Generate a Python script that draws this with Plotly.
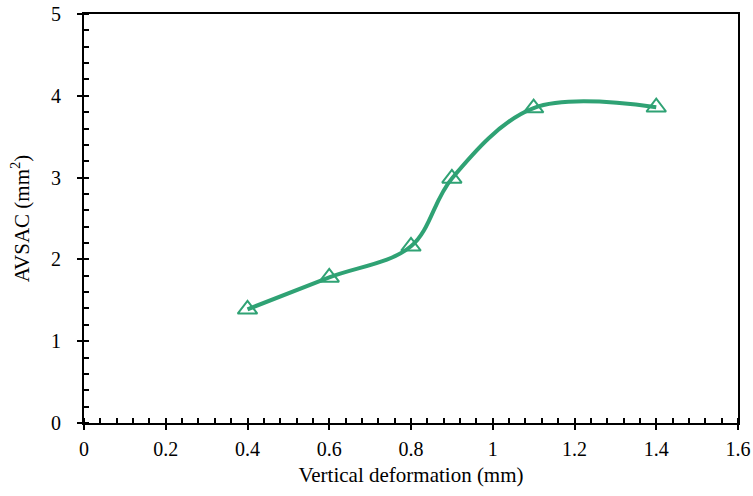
import plotly.graph_objects as go

x_vals = [0.4, 0.6, 0.8, 0.9, 1.1, 1.4]
y_vals = [1.39, 1.78, 2.16, 2.99, 3.85, 3.86]
x_title = "Vertical deformation (mm)"
y_title = "AVSAC (mm<sup>2</sup>)"

color = "#2FA274"
font_family = "Times New Roman, Liberation Serif, serif"

fig = go.Figure()
fig.add_trace(go.Scatter(
    x=x_vals, y=y_vals, mode="lines+markers",
    line=dict(color=color, width=4, shape="spline", smoothing=1.0),
    marker=dict(symbol="triangle-up-open", size=17, color=color, line=dict(width=2, color=color)),
    showlegend=False,
))

axis_common = dict(
    showgrid=False, zeroline=False, showline=True, linecolor="black", linewidth=2,
    mirror=True, ticks="outside", ticklen=5, tickwidth=2, tickcolor="black",
    tickfont=dict(family=font_family, size=20, color="black"),
    automargin=False,
)
fig.update_xaxes(range=[0, 1.6], dtick=0.2, tick0=0, ticklabelstandoff=2,
                 minor=dict(dtick=0.04, ticks="inside", ticklen=5, tickwidth=1.5, tickcolor="black"),
                 title=dict(text=x_title, font=dict(family=font_family, size=21, color="black"), standoff=8),
                 **axis_common)
fig.update_yaxes(range=[0, 5], dtick=1, tick0=0, ticklabelstandoff=12,
                 minor=dict(dtick=0.2, ticks="inside", ticklen=5, tickwidth=1.5, tickcolor="black"),
                 title=dict(text=y_title, font=dict(family=font_family, size=21, color="black"), standoff=16),
                 **axis_common)
fig.update_layout(
    width=753, height=496,
    margin=dict(l=84, r=15, t=14, b=73),
    plot_bgcolor="white", paper_bgcolor="white",
    font=dict(family=font_family),
)
fig.write_html("out.html")
